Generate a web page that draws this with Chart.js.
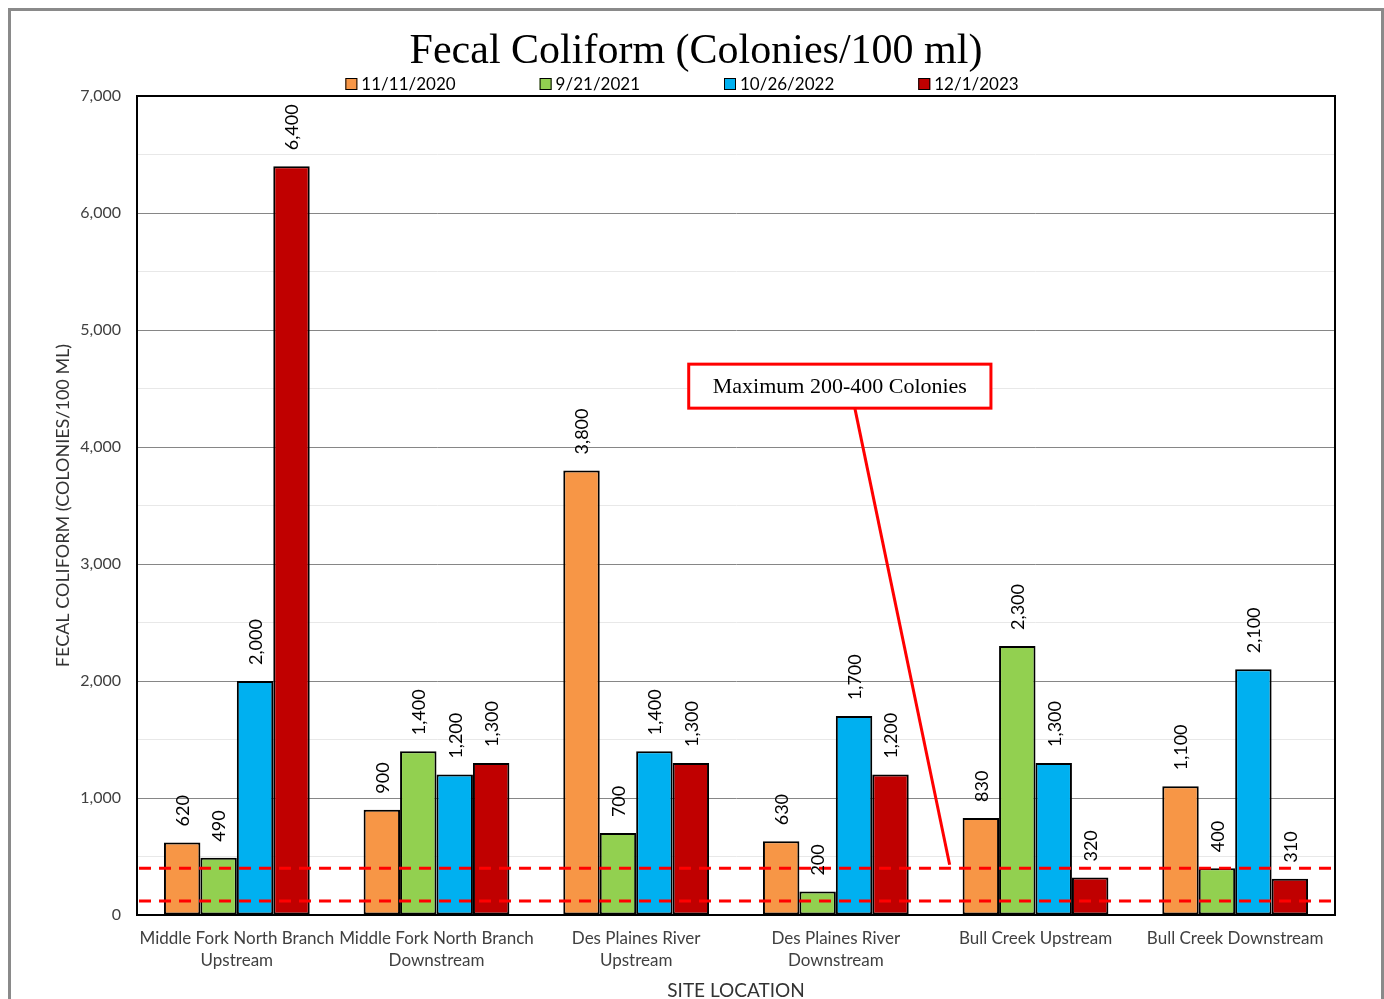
<!DOCTYPE html>
<html><head><meta charset="utf-8">
<script src="https://cdn.jsdelivr.net/npm/chart.js@4.4.1/dist/chart.umd.min.js"></script>
<style>html,body{margin:0;padding:0;background:#fff}#wrap{width:1384px;height:999px;position:relative}</style>
</head><body><div id="wrap"><canvas id="c"></canvas></div>
<script>
const categories = [["Middle Fork North Branch","Upstream"],["Middle Fork North Branch","Downstream"],["Des Plaines River","Upstream"],["Des Plaines River","Downstream"],"Bull Creek Upstream","Bull Creek Downstream"];
const seriesLabels = ["11/11/2020","9/21/2021","10/26/2022","12/1/2023"];
const values2020 = [620,900,3800,630,830,1100];
const values2021 = [490,1400,700,200,2300,400];
const values2022 = [2000,1200,1400,1700,1300,2100];
const values2023 = [6400,1300,1300,1200,320,310];
const seriesColors = ["#F79646","#92D050","#00B0F0","#C00000"];
const limitLines = [400,120];
const yMax = 7000;
const titleText = "Fecal Coliform (Colonies/100 ml)";
const yTitle = "FECAL COLIFORM (COLONIES/100 ML)";
const xTitle = "SITE LOCATION";
const annotationText = "Maximum 200-400 Colonies";
const annotationBoxAt = {category: 3.02, value: 4520};
const annotationPointAt = {category: 3.57, value: 430};

const SANS = "Lato, 'Open Sans', sans-serif";
const SERIF = "'Liberation Serif', 'DejaVu Serif', serif";
const fmt = v => v.toLocaleString('en-US');

const seriesValues = [values2020, values2021, values2022, values2023];
const datasets = seriesLabels.map((l,i)=>({
  label: l, data: seriesValues[i], backgroundColor: seriesColors[i],
  borderColor: '#000', borderWidth: 2, borderSkipped: false,
  categoryPercentage: 0.73, barPercentage: 1.0
}));

const decor = {
  id: 'decor',
  beforeDraw(chart){
    const c = chart.ctx;
    c.save();
    c.fillStyle = '#fff'; c.fillRect(0,0,chart.width,chart.height);
    c.strokeStyle = '#8a8a8a'; c.lineWidth = 3;
    c.strokeRect(9.5, 9.5, 1373, 1200);
    c.restore();
  },
  afterDatasetsDraw(chart){
    const c = chart.ctx, a = chart.chartArea;
    const xs = chart.scales.x, ys = chart.scales.y;
    c.save();
    // plot frame
    c.strokeStyle = '#000'; c.lineWidth = 2;
    c.strokeRect(a.left, a.top, a.right - a.left, a.bottom - a.top);
    // limit lines
    c.strokeStyle = '#FF0000'; c.lineWidth = 3; c.setLineDash([12,8]);
    limitLines.forEach(v=>{
      const y = ys.getPixelForValue(v);
      c.beginPath(); c.moveTo(a.left + 2, y); c.lineTo(a.right - 4, y); c.stroke();
    });
    c.setLineDash([]);
    // data labels
    c.fillStyle = '#000'; c.font = "18px " + SANS;
    c.textAlign = 'left'; c.textBaseline = 'middle';
    chart.data.datasets.forEach((ds,di)=>{
      const meta = chart.getDatasetMeta(di);
      meta.data.forEach((bar,i)=>{
        c.save();
        c.translate(bar.x + 1, bar.y - 16);
        c.rotate(-Math.PI/2);
        c.fillText(fmt(ds.data[i]), 0, 0);
        c.restore();
      });
    });
    // annotation
    const bx = xs.getPixelForValue(annotationBoxAt.category);
    const by = ys.getPixelForValue(annotationBoxAt.value);
    c.font = "22px " + SERIF;
    const tw = c.measureText(annotationText).width;
    const bw = tw + 48, bh = 44;
    const px = xs.getPixelForValue(annotationPointAt.category);
    const py = ys.getPixelForValue(annotationPointAt.value);
    c.strokeStyle = '#FF0000'; c.lineWidth = 3;
    c.beginPath(); c.moveTo(bx + 15, by + bh/2); c.lineTo(px, py); c.stroke();
    c.fillStyle = '#fff';
    c.fillRect(bx - bw/2, by - bh/2, bw, bh);
    c.strokeRect(bx - bw/2, by - bh/2, bw, bh);
    c.fillStyle = '#000'; c.textAlign = 'center'; c.textBaseline = 'middle';
    c.fillText(annotationText, bx, by + 1);
    // title
    c.font = "42px " + SERIF;
    c.fillText(titleText, chart.width/2 + 4, 52);
    // legend
    c.font = "17px " + SANS;
    const gap = 84, box = 12, tgap = 4;
    const widths = seriesLabels.map(l => box + tgap + c.measureText(l).width);
    const total = widths.reduce((s,w)=>s+w,0) + gap*(widths.length-1);
    let x = chart.width/2 - 10 - total/2;
    const ly = 84;
    seriesLabels.forEach((l,i)=>{
      c.fillStyle = seriesColors[i];
      c.fillRect(x, ly - box/2, box, box);
      c.strokeStyle = '#000'; c.lineWidth = 1;
      c.strokeRect(x + 0.5, ly - box/2 + 0.5, box - 1, box - 1);
      c.fillStyle = '#000'; c.textAlign = 'left';
      c.fillText(l, x + box + tgap, ly + 1);
      x += widths[i] + gap;
    });
    c.restore();
  }
};

new Chart(document.getElementById('c'), {
  type: 'bar',
  data: { labels: categories, datasets },
  options: {
    responsive: true, maintainAspectRatio: false, animation: false,
    layout: { padding: { top: 96, right: 49, bottom: 0, left: 52 } },
    plugins: { legend: { display: false }, title: { display: false }, tooltip: { enabled: false } },
    scales: {
      x: {
        grid: { display: false, drawTicks: false },
        border: { display: true, color: '#000', width: 2 },
        ticks: { color: '#404040', font: { family: SANS, size: 17, lineHeight: 1.32 }, padding: 12, maxRotation: 0, autoSkip: false },
        title: { display: true, text: xTitle, color: '#333', font: { family: SANS, size: 19 }, padding: { top: 4, bottom: -3 } },
        afterFit(s){ s.height = 84; }
      },
      y: {
        min: 0, max: yMax,
        grid: { drawTicks: false, color: ctx => (ctx.tick && ctx.tick.value % 1000 === 0) ? '#868686' : '#e8e8e8', lineWidth: 1 },
        border: { display: true, color: '#000', width: 2 },
        ticks: { stepSize: 500, color: '#404040', font: { family: SANS, size: 16 }, padding: 16,
          callback: v => v % 1000 === 0 ? fmt(v) : '' },
        title: { display: true, text: yTitle, color: '#333', font: { family: SANS, size: 18 }, padding: { top: 0, bottom: 0 } },
        afterFit(s){ s.width = 137 - 52; }
      }
    }
  },
  plugins: [decor]
});
</script></body></html>
